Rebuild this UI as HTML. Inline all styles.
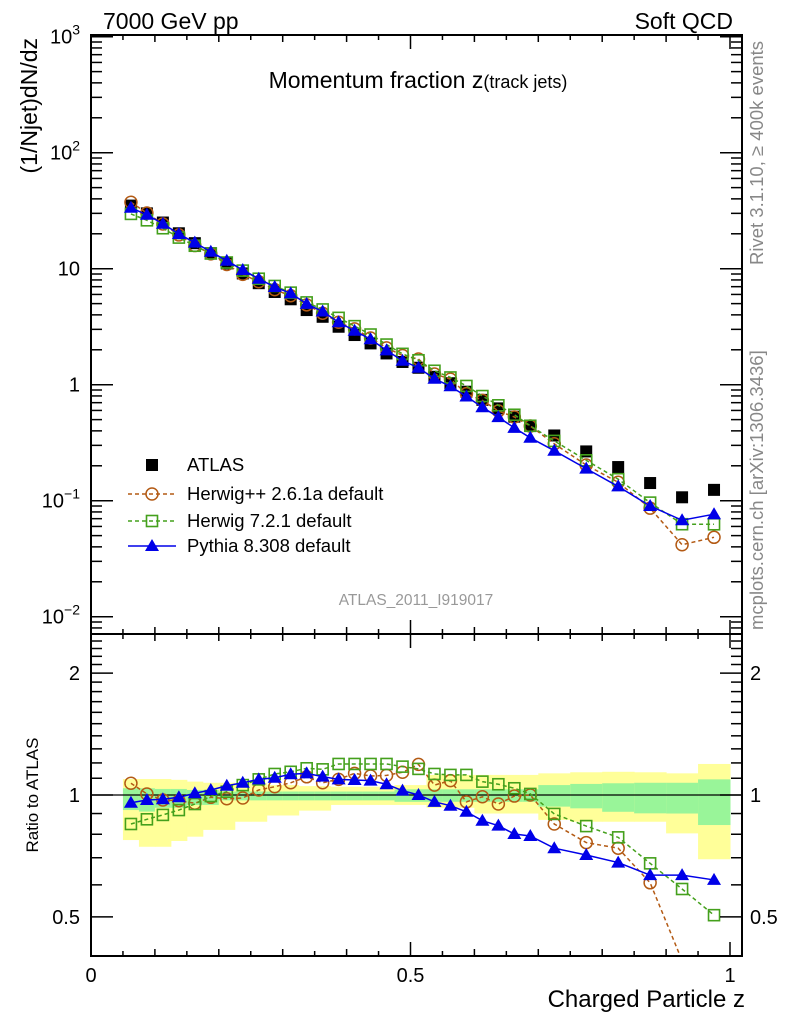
<!DOCTYPE html>
<html><head><meta charset="utf-8">
<style>
body{margin:0;background:#fff;}
svg{display:block;font-family:"Liberation Sans",Arial,sans-serif;}
</style></head>
<body>
<svg id="chart" width="786" height="1024" viewBox="0 0 786 1024" xmlns="http://www.w3.org/2000/svg">
<defs>
<clipPath id="clipTop"><rect x="91" y="35" width="651" height="599"/></clipPath>
<clipPath id="clipBot"><rect x="91" y="634" width="651" height="322"/></clipPath>
</defs>
<g id="bands" clip-path="url(#clipBot)"></g>
<g id="series-top" clip-path="url(#clipTop)"></g>
<g id="series-bot" clip-path="url(#clipBot)"></g>
<rect x="91" y="35" width="651" height="921" fill="none" stroke="#000" stroke-width="2"/>
<line x1="91" y1="634" x2="742" y2="634" stroke="#000" stroke-width="2"/>
<g id="axes"></g>
<text x="103" y="29" font-size="23">7000 GeV pp</text>
<text x="733" y="29" font-size="23" text-anchor="end">Soft QCD</text>
<text x="418" y="88" font-size="23" text-anchor="middle">Momentum fraction z<tspan font-size="18">(track jets)</tspan></text>
<text transform="translate(37,38) rotate(-90)" font-size="23" text-anchor="end">(1/Njet)dN/dz</text>
<text transform="translate(38,795) rotate(-90)" font-size="17" text-anchor="middle">Ratio to ATLAS</text>
<text x="745" y="1007" font-size="24" text-anchor="end">Charged Particle z</text>
<text transform="translate(763,265) rotate(-90)" font-size="18.5" fill="#888">Rivet 3.1.10, ≥ 400k events</text>
<text transform="translate(763,630) rotate(-90)" font-size="18.5" fill="#888">mcplots.cern.ch [arXiv:1306.3436]</text>
<text x="416" y="605" font-size="15.5" fill="#999" text-anchor="middle">ATLAS_2011_I919017</text>
<g id="legend"></g>
</svg>
<script>
// ---- data ----
const binLo = [0.05,0.075,0.1,0.125,0.15,0.175,0.2,0.225,0.25,0.275,0.3,0.325,0.35,0.375,0.4,0.425,0.45,0.475,0.5,0.525,0.55,0.575,0.6,0.625,0.65,0.675,0.7,0.75,0.8,0.85,0.9,0.95];
const binHi = [0.075,0.1,0.125,0.15,0.175,0.2,0.225,0.25,0.275,0.3,0.325,0.35,0.375,0.4,0.425,0.45,0.475,0.5,0.525,0.55,0.575,0.6,0.625,0.65,0.675,0.7,0.75,0.8,0.85,0.9,0.95,1.0];
const atlasValues = [35,30,25,20.2,16.6,13.6,11.1,9.1,7.5,6.3,5.45,4.4,3.85,3.16,2.68,2.27,1.86,1.57,1.4,1.17,1.03,0.87,0.74,0.625,0.53,0.44,0.365,0.266,0.195,0.142,0.107,0.124];
const herwigPPRatio = [1.069,1.006,0.972,0.968,0.954,0.987,0.979,0.983,1.029,1.048,1.072,1.109,1.072,1.093,1.131,1.114,1.118,1.138,1.19,1.058,1.085,0.962,0.990,0.950,0.994,1.0,0.848,0.763,0.739,0.607,0.39,0.39];
const herwig7Ratio = [0.848,0.871,0.893,0.918,0.950,0.994,1.019,1.058,1.093,1.127,1.141,1.164,1.157,1.193,1.193,1.193,1.193,1.175,1.16,1.127,1.121,1.121,1.079,1.063,1.039,1.006,0.898,0.838,0.786,0.678,0.586,0.505];
const pythiaRatio = [0.957,0.972,0.976,0.987,1.01,1.029,1.054,1.072,1.093,1.103,1.125,1.131,1.11,1.093,1.089,1.085,1.063,1.025,1.0,0.962,0.941,0.909,0.864,0.840,0.801,0.792,0.739,0.711,0.681,0.634,0.634,0.617];
const yellowHi = [1.095,1.095,1.095,1.09,1.079,1.072,1.072,1.069,1.069,1.058,1.058,1.052,1.052,1.048,1.048,1.048,1.048,1.058,1.058,1.121,1.121,1.121,1.121,1.121,1.121,1.121,1.131,1.138,1.141,1.138,1.131,1.193];
const yellowLo = [0.774,0.745,0.745,0.77,0.789,0.82,0.82,0.859,0.859,0.89,0.89,0.915,0.915,0.945,0.945,0.945,0.945,0.945,0.945,0.93,0.93,0.93,0.90,0.90,0.90,0.90,0.868,0.859,0.859,0.859,0.804,0.694];
const greenHi = [1.039,1.039,1.035,1.035,1.029,1.029,1.02,1.02,1.02,1.02,1.02,1.02,1.02,1.02,1.02,1.02,1.02,1.033,1.033,1.033,1.033,1.033,1.033,1.033,1.033,1.033,1.058,1.065,1.069,1.072,1.072,1.093];
const greenLo = [0.918,0.91,0.93,0.93,0.945,0.945,0.97,0.97,0.97,0.97,0.97,0.97,0.97,0.97,0.97,0.97,0.97,0.962,0.962,0.962,0.962,0.962,0.962,0.962,0.962,0.962,0.936,0.927,0.909,0.901,0.9,0.843];
const topTickBase = ["10","10","1","10","10","10"];
const topTickExp = ["−2","−1","","","2","3"];
const topTickVals = [0.01,0.1,1,10,100,1000];
const ratioTickLabels = ["0.5","1","2"];
const ratioTickVals = [0.5,1,2];
const xTickLabels = ["0","0.5","1"];
const xTickVals = [0,0.5,1];

// ---- axes ----
const NS = "http://www.w3.org/2000/svg";
function X(z){ return 91 + 639*z; }
function YT(v){ return 152.7 + 116*(2 - Math.log10(v)); }
function YR(r){ return 795 - 405*Math.log10(r); }
function mk(tag, attrs, parent){
  const e = document.createElementNS(NS, tag);
  for (const k in attrs) e.setAttribute(k, attrs[k]);
  parent.appendChild(e); return e;
}
const axes = document.getElementById('axes');
const bands = document.getElementById('bands');
const sTop = document.getElementById('series-top');
const sBot = document.getElementById('series-bot');
const legend = document.getElementById('legend');

for (let i=0;i<binLo.length;i++){
  const y1 = mk('rect',{x:X(binLo[i]),y:YR(yellowHi[i]),width:X(binHi[i])-X(binLo[i])+0.5,height:YR(yellowLo[i])-YR(yellowHi[i]),fill:'#ffff99'},bands);
  
  
  const g1 = mk('rect',{x:X(binLo[i]),y:YR(greenHi[i]),width:X(binHi[i])-X(binLo[i])+0.5,height:YR(greenLo[i])-YR(greenHi[i]),fill:'#99f599'},bands);
  
  
}
mk('line',{x1:91,y1:YR(1),x2:742,y2:YR(1),stroke:'#000','stroke-width':1.3},bands);

for (let d=-3; d<=3; d++){
  for (let m=1;m<=9;m++){
    const v = m*Math.pow(10,d);
    const y = YT(v);
    if (y < 34 || y > 634) continue;
    const len = m===1?22:11;
    mk('line',{x1:91,y1:y,x2:91+len,y2:y,stroke:'#000','stroke-width':1.5},axes);
    mk('line',{x1:742,y1:y,x2:742-len,y2:y,stroke:'#000','stroke-width':1.5},axes);
  }
}
topTickVals.forEach((v,i)=>{
  const y = YT(v);
  const t = mk('text',{x:80,y:y+7,'font-size':20,'text-anchor':'end'},axes);
  
  
  if (topTickExp[i]) {
    const b = mk('tspan',{},t); b.textContent = topTickBase[i];
    const s = mk('tspan',{dy:-9,'font-size':14},t); s.textContent = topTickExp[i];
  } else {
    t.textContent = topTickBase[i];
  }
});
const rt=[0.4,0.5,0.6,0.7,0.8,0.9,1,1.1,1.2,1.3,1.4,1.5,1.6,1.7,1.8,1.9,2,2.1,2.2,2.3,2.4,2.5];
rt.forEach(r=>{
  const y=YR(r); if (y < 634 || y > 956) return;
  const major=(r===0.5||r===1||r===2);
  const len=major?22:11;
  mk('line',{x1:91,y1:y,x2:91+len,y2:y,stroke:'#000','stroke-width':1.5},axes);
  mk('line',{x1:742,y1:y,x2:742-len,y2:y,stroke:'#000','stroke-width':1.5},axes);
});
ratioTickLabels.forEach((lab,i)=>{
  const y=YR(ratioTickVals[i]);
  const t=mk('text',{x:80,y:y+7,'font-size':20,'text-anchor':'end'},axes);
  
  
  t.textContent=lab;
  const t2=mk('text',{x:750,y:y+7,'font-size':20},axes);
  
  
  t2.textContent=lab;
});
for (let k=0;k<=20;k++){
  const x=X(k*0.05);
  const len=(k%10===0)?14:(k%2===0?7:5);
  [[956,-1],[634,-1],[634,1],[35,1]].forEach(p=>{
    mk('line',{x1:x,y1:p[0],x2:x,y2:p[0]+p[1]*len,stroke:'#000','stroke-width':1.5},axes);
  });
}
xTickLabels.forEach((lab,i)=>{
  const t=mk('text',{x:X(xTickVals[i]),y:982,'font-size':20,'text-anchor':'middle'},axes);
  
  
  t.textContent=lab;
});

// ---- series ----
const zc = binLo.map((l,i)=>(l+binHi[i])/2);
function marker(type,x,y,color,parent){
  let e;
  if(type==='square') e=mk('rect',{x:x-6,y:y-6,width:12,height:12,fill:'#000'},parent);
  else if(type==='circle') e=mk('circle',{cx:x,cy:y,r:6,fill:'none',stroke:color,'stroke-width':1.5},parent);
  else if(type==='osquare') e=mk('rect',{x:x-5.5,y:y-5.5,width:11,height:11,fill:'none',stroke:color,'stroke-width':1.6},parent);
  else e=mk('polygon',{points:(x)+','+(y-7)+' '+(x-7)+','+(y+5)+' '+(x+7)+','+(y+5),fill:color},parent);
  return e;
}
function drawLine(pts,color,dash,parent){
  const a={points:pts.map(p=>p.join(',')).join(' '),fill:'none',stroke:color,'stroke-width':1.5};
  if(dash) a['stroke-dasharray']=dash;
  return mk('polyline',a,parent);
}
const series=[
  {name:'herwigpp',ratio:herwigPPRatio,color:'#b35a14',type:'circle',dash:'4,3'},
  {name:'herwig7',ratio:herwig7Ratio,color:'#44a01c',type:'osquare',dash:'4,3'},
  {name:'pythia',ratio:pythiaRatio,color:'#0000e8',type:'tri',dash:null}
];
atlasValues.forEach((v,i)=>{
  const m=marker('square',X(zc[i]),YT(v),'#000',sTop);
  
  
});
series.forEach(s=>{
  const top=zc.map((z,i)=>[X(z),YT(atlasValues[i]*s.ratio[i])]);
  const l1=drawLine(top,s.color,s.dash,sTop);
  
  
  top.forEach(p=>{ const m=marker(s.type,p[0],p[1],s.color,sTop);
    
     });
  const bot=zc.map((z,i)=>[X(z),YR(s.ratio[i])]);
  const l2=drawLine(bot,s.color,s.dash,sBot);
  
  
  bot.forEach(p=>{ if (p[1] > 950) return; const m=marker(s.type,p[0],p[1],s.color,sBot);
    
     });
});

// ---- legend ----
const legItems=[
  {label:'ATLAS',type:'square',color:'#000',dash:null,line:false,y:465},
  {label:'Herwig++ 2.6.1a default',type:'circle',color:'#b35a14',dash:'4,3',line:true,y:494},
  {label:'Herwig 7.2.1 default',type:'osquare',color:'#44a01c',dash:'4,3',line:true,y:521},
  {label:'Pythia 8.308 default',type:'tri',color:'#0000e8',dash:null,line:true,y:546}
];
legItems.forEach(it=>{
  const g=mk('g',{},legend);
  
  
  if(it.line) drawLine([[128,it.y],[176,it.y]],it.color,it.dash,g);
  marker(it.type,152,it.y,it.color,g);
  const t=mk('text',{x:187,y:it.y+6,'font-size':18.5},g);
  t.textContent=it.label;
});
</script>
</body></html>
